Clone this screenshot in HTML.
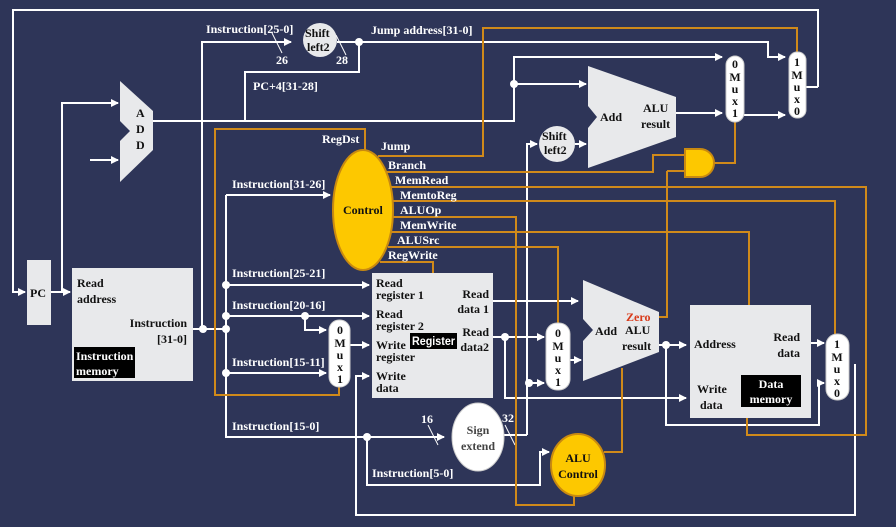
<!DOCTYPE html>
<html><head><meta charset="utf-8"><style>
body{margin:0;background:#2e3558;}
svg{display:block}
text{font-family:"Liberation Serif",serif;font-weight:bold;font-size:12px;}
.w{fill:#fff}.k{fill:#111}
</style></head><body>
<svg width="896" height="527" viewBox="0 0 896 527" xmlns="http://www.w3.org/2000/svg">
<defs>
<marker id="a" markerWidth="8" markerHeight="8" refX="7" refY="4" orient="auto" markerUnits="userSpaceOnUse"><path d="M0,0 L8,4 L0,8 Z" fill="#fff"/></marker>
</defs>
<rect width="896" height="527" fill="#2e3558"/>
<g fill="none" stroke="#fff" stroke-width="2">
<polyline points="818,87 818,10 13,10 13,292 25,292" marker-end="url(#a)"/>
<polyline points="51,292 70,292" marker-end="url(#a)"/>
<polyline points="62,292 62,103 118,103" marker-end="url(#a)"/>
<line x1="90" y1="160" x2="118" y2="160" marker-end="url(#a)"/>
<polyline points="153,121 514,121 514,57 722,57" marker-end="url(#a)"/>
<line x1="514" y1="84" x2="586" y2="84" marker-end="url(#a)"/>
<polyline points="193,329 226,329"/>
<polyline points="202,329 202,42 291,42" marker-end="url(#a)"/>
<polyline points="337,42 768,42 768,57 785,57" marker-end="url(#a)"/>
<polyline points="359,42 359,72 245,72 245,121"/>
<line x1="676" y1="113" x2="722" y2="113" marker-end="url(#a)"/>
<line x1="744" y1="115" x2="785" y2="115" marker-end="url(#a)"/>
<line x1="806" y1="87" x2="818" y2="87"/>
<polyline points="527,435 527,144 537,144" marker-end="url(#a)"/>
<line x1="575" y1="144" x2="586" y2="144" marker-end="url(#a)"/>
<polyline points="226,195 226,430 226,437 444,437" marker-end="url(#a)"/>
<line x1="226" y1="195" x2="330" y2="195" marker-end="url(#a)"/>
<line x1="226" y1="285" x2="369" y2="285" marker-end="url(#a)"/>
<line x1="226" y1="316" x2="369" y2="316" marker-end="url(#a)"/>
<polyline points="305,316 305,330 326,330" marker-end="url(#a)"/>
<line x1="226" y1="373" x2="326" y2="373" marker-end="url(#a)"/>
<line x1="350" y1="345" x2="369" y2="345" marker-end="url(#a)"/>
<polyline points="855,364 855,515 356,515 356,376 369,376" marker-end="url(#a)"/>
<polyline points="367,437 367,485 540,485 540,452 549,452" marker-end="url(#a)"/>
<line x1="504" y1="435" x2="527" y2="435"/>
<line x1="527" y1="383" x2="544" y2="383" marker-end="url(#a)"/>
<line x1="493" y1="301" x2="578" y2="301" marker-end="url(#a)"/>
<line x1="493" y1="337" x2="544" y2="337" marker-end="url(#a)"/>
<polyline points="505,337 505,398 686,398" marker-end="url(#a)"/>
<line x1="570" y1="360" x2="581" y2="360" marker-end="url(#a)"/>
<line x1="659" y1="345" x2="686" y2="345" marker-end="url(#a)"/>
<polyline points="666,345 666,425 819,425 819,383 824,383" marker-end="url(#a)"/>
<line x1="811" y1="343" x2="824" y2="343" marker-end="url(#a)"/>
<line x1="428" y1="425" x2="438" y2="445" stroke-width="1"/>
<line x1="272" y1="33" x2="282" y2="53" stroke-width="1"/>
<line x1="336" y1="35" x2="346" y2="55" stroke-width="1"/>
<line x1="505" y1="425" x2="515" y2="445" stroke-width="1"/>
</g>
<g fill="none" stroke="#d08a1a" stroke-width="2">
<polyline points="378,156 483,156 483,28 797,28 797,52"/>
<polyline points="378,172 653,172 653,155 686,155"/>
<polyline points="667,171 686,171"/>
<polyline points="659,317 667,317 667,171"/>
<polyline points="714,163 735,163 735,122"/>
<polyline points="386,187 866,187 866,435 747,435 747,418"/>
<polyline points="390,201 835,201 835,334"/>
<polyline points="392,217 516,217 516,505 574,505 574,494"/>
<polyline points="390,232 749,232 749,305"/>
<polyline points="388,247 558,247 558,323"/>
<polyline points="380,262 433,262 433,273"/>
<polyline points="365,150 365,129 215,129 215,395 339,395 339,386"/>
<polyline points="604,452 622,452 622,368"/>
</g>
<g fill="#fff">
<circle cx="359" cy="42" r="4"/><circle cx="514" cy="84" r="4"/>
<circle cx="203" cy="329" r="4"/><circle cx="226" cy="329" r="4"/>
<circle cx="226" cy="285" r="4"/><circle cx="226" cy="316" r="4"/><circle cx="226" cy="373" r="4"/>
<circle cx="305" cy="316" r="4"/><circle cx="367" cy="437" r="4"/><circle cx="505" cy="337" r="4"/>
<circle cx="529" cy="383" r="4"/><circle cx="666" cy="345" r="4"/>
</g>
<g fill="#e8e9eb">
<rect x="27" y="260" width="24" height="65"/>
<rect x="72" y="268" width="121" height="113"/>
<rect x="372" y="273" width="121" height="125"/>
<rect x="690" y="305" width="121" height="113"/>
<polygon points="120,81 153,111 153,150 120,182 120,141 130,131 120,121"/>
<polygon points="588,66 676,97 676,137 588,168 588,128 597,117 588,106"/>
<polygon points="583,280 659,312 659,352 583,381 583,341 593,330 583,319"/>
<circle cx="320" cy="40" r="17"/><circle cx="557" cy="144" r="18"/>
</g>
<g fill="#fff" stroke="#ccc" stroke-width="1">
<rect x="726" y="56" width="18" height="66" rx="9"/>
<rect x="789" y="52" width="17" height="66" rx="8"/>
<rect x="329" y="320" width="21" height="67" rx="10"/>
<rect x="546" y="323" width="24" height="67" rx="11"/>
<rect x="826" y="334" width="23" height="66" rx="11"/>
<ellipse cx="478" cy="437" rx="26" ry="34"/>
</g>
<ellipse cx="363" cy="210" rx="30" ry="60" fill="#fdc800" stroke="#c98a10" stroke-width="2"/>
<ellipse cx="578" cy="465" rx="27" ry="31" fill="#fdc800" stroke="#c98a10" stroke-width="2"/>
<path d="M685,149 H700 A14,14 0 0 1 700,177 H685 Z" fill="#fdc800" stroke="#c98a10" stroke-width="2"/>
<rect x="74" y="347" width="61" height="31" fill="#000"/>
<rect x="410" y="333" width="47" height="16" fill="#000"/>
<rect x="741" y="375" width="60" height="32" fill="#000"/>
<g class="k">
<text x="30" y="297">PC</text>
<text x="136" y="117">A</text><text x="136" y="133">D</text><text x="136" y="149">D</text>
<text x="305" y="37" font-size="11">Shift</text><text x="307" y="51" font-size="11">left2</text>
<text x="542" y="140" font-size="11">Shift</text><text x="544" y="154" font-size="11">left2</text>
<text x="600" y="121">Add</text><text x="643" y="112">ALU</text><text x="641" y="128">result</text>
<text x="343" y="214">Control</text>
<text x="77" y="287">Read</text><text x="77" y="303">address</text>
<text x="187" y="327" text-anchor="end">Instruction</text><text x="187" y="343" text-anchor="end">[31-0]</text>
<text x="376" y="287">Read</text><text x="376" y="299">register 1</text>
<text x="376" y="318">Read</text><text x="376" y="330">register 2</text>
<text x="376" y="349">Write</text><text x="376" y="361">register</text>
<text x="376" y="380">Write</text><text x="376" y="392">data</text>
<text x="489" y="298" text-anchor="end">Read</text><text x="489" y="313" text-anchor="end">data 1</text>
<text x="489" y="336" text-anchor="end">Read</text><text x="489" y="351" text-anchor="end">data2</text>
<text x="595" y="335">Add</text><text x="625" y="334">ALU</text><text x="622" y="350">result</text>
<text x="694" y="348">Address</text>
<text x="800" y="341" text-anchor="end">Read</text><text x="800" y="357" text-anchor="end">data</text>
<text x="697" y="393">Write</text><text x="700" y="409">data</text>
<text x="478" y="434" text-anchor="middle" fill="#444">Sign</text><text x="478" y="450" text-anchor="middle" fill="#444">extend</text>
<text x="578" y="462" text-anchor="middle">ALU</text><text x="578" y="478" text-anchor="middle">Control</text>
</g>
<g class="k" font-size="11" text-anchor="middle">
<text x="735" y="68">0</text><text x="735" y="81">M</text><text x="735" y="93">u</text><text x="735" y="105">x</text><text x="735" y="117">1</text>
<text x="797" y="66">1</text><text x="797" y="79">M</text><text x="797" y="91">u</text><text x="797" y="103">x</text><text x="797" y="115">0</text>
<text x="340" y="334">0</text><text x="340" y="347">M</text><text x="340" y="359">u</text><text x="340" y="371">x</text><text x="340" y="383">1</text>
<text x="558" y="337">0</text><text x="558" y="350">M</text><text x="558" y="362">u</text><text x="558" y="374">x</text><text x="558" y="386">1</text>
<text x="837" y="348">1</text><text x="837" y="361">M</text><text x="837" y="373">u</text><text x="837" y="385">x</text><text x="837" y="397">0</text>
</g>
<text x="626" y="321" fill="#d83a1a">Zero</text>
<g class="w">
<text x="76" y="360" font-size="11.5">Instruction</text><text x="76" y="375" font-size="11.5">memory</text>
<text x="412" y="345" style="font-family:'Liberation Sans',sans-serif" font-size="10" textLength="43" lengthAdjust="spacingAndGlyphs">Register</text>
<text x="771" y="388" text-anchor="middle">Data</text><text x="771" y="403" text-anchor="middle">memory</text>
<text x="206" y="33">Instruction[25-0]</text>
<text x="276" y="64">26</text><text x="336" y="64">28</text>
<text x="371" y="34">Jump address[31-0]</text>
<text x="253" y="90">PC+4[31-28]</text>
<text x="322" y="143">RegDst</text>
<text x="381" y="150">Jump</text>
<text x="388" y="169">Branch</text>
<text x="395" y="184">MemRead</text>
<text x="400" y="199">MemtoReg</text>
<text x="400" y="214">ALUOp</text>
<text x="400" y="229">MemWrite</text>
<text x="397" y="244">ALUSrc</text>
<text x="388" y="259">RegWrite</text>
<text x="232" y="188">Instruction[31-26]</text>
<text x="232" y="277">Instruction[25-21]</text>
<text x="232" y="309">Instruction[20-16]</text>
<text x="232" y="366">Instruction[15-11]</text>
<text x="232" y="430">Instruction[15-0]</text>
<text x="372" y="477">Instruction[5-0]</text>
<text x="421" y="423">16</text>
<text x="502" y="422">32</text>
</g>
</svg>
</body></html>
